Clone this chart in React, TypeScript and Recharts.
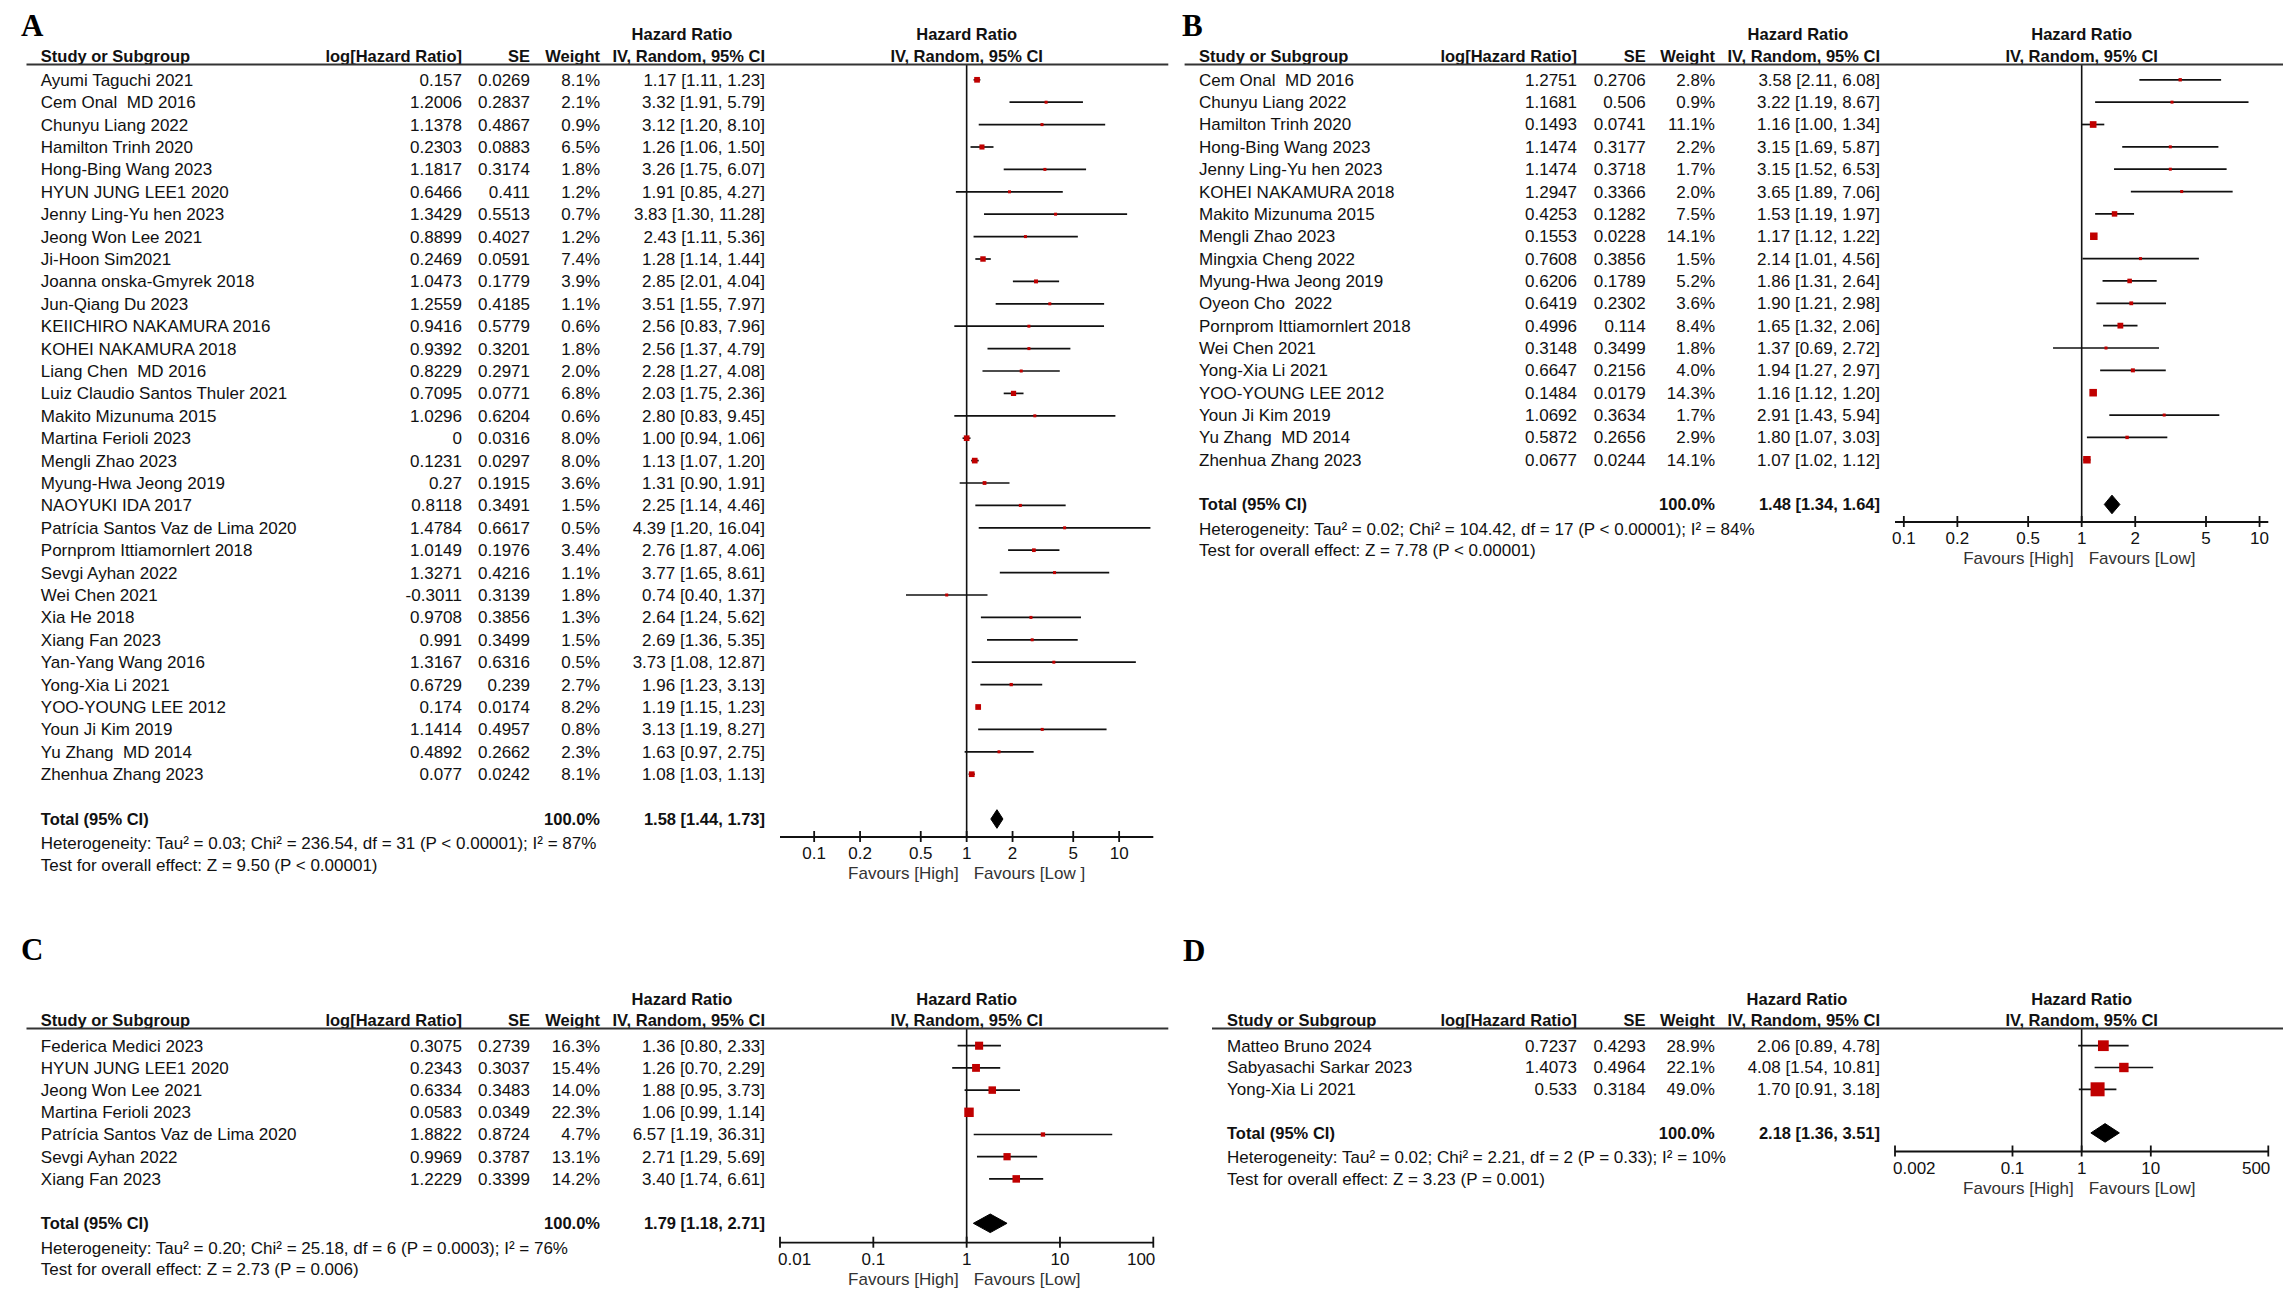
import React from 'react';
import { ScatterChart, Scatter, XAxis, YAxis, ErrorBar, ReferenceLine } from 'recharts';

// ---------------- Panel A data ----------------
const studiesA = [
  'Ayumi Taguchi 2021', 'Cem Onal  MD 2016', 'Chunyu Liang 2022', 'Hamilton Trinh 2020', 'Hong-Bing Wang 2023',
  'HYUN JUNG LEE1 2020', 'Jenny Ling-Yu hen 2023', 'Jeong Won Lee 2021', 'Ji-Hoon Sim2021', 'Joanna onska-Gmyrek 2018',
  'Jun-Qiang Du 2023', 'KEIICHIRO NAKAMURA 2016', 'KOHEI NAKAMURA 2018', 'Liang Chen  MD 2016', 'Luiz Claudio Santos Thuler 2021',
  'Makito Mizunuma 2015', 'Martina Ferioli 2023', 'Mengli Zhao 2023', 'Myung-Hwa Jeong 2019', 'NAOYUKI IDA 2017',
  'Patrícia Santos Vaz de Lima 2020', 'Pornprom Ittiamornlert 2018', 'Sevgi Ayhan 2022', 'Wei Chen 2021', 'Xia He 2018',
  'Xiang Fan 2023', 'Yan-Yang Wang 2016', 'Yong-Xia Li 2021', 'YOO-YOUNG LEE 2012', 'Youn Ji Kim 2019',
  'Yu Zhang  MD 2014', 'Zhenhua Zhang 2023',
];
const logHrA = [0.157, 1.2006, 1.1378, 0.2303, 1.1817, 0.6466, 1.3429, 0.8899, 0.2469, 1.0473, 1.2559, 0.9416, 0.9392, 0.8229, 0.7095, 1.0296, 0, 0.1231, 0.27, 0.8118, 1.4784, 1.0149, 1.3271, -0.3011, 0.9708, 0.991, 1.3167, 0.6729, 0.174, 1.1414, 0.4892, 0.077];
const seA = [0.0269, 0.2837, 0.4867, 0.0883, 0.3174, 0.411, 0.5513, 0.4027, 0.0591, 0.1779, 0.4185, 0.5779, 0.3201, 0.2971, 0.0771, 0.6204, 0.0316, 0.0297, 0.1915, 0.3491, 0.6617, 0.1976, 0.4216, 0.3139, 0.3856, 0.3499, 0.6316, 0.239, 0.0174, 0.4957, 0.2662, 0.0242];
const weightA = [8.1, 2.1, 0.9, 6.5, 1.8, 1.2, 0.7, 1.2, 7.4, 3.9, 1.1, 0.6, 1.8, 2.0, 6.8, 0.6, 8.0, 8.0, 3.6, 1.5, 0.5, 3.4, 1.1, 1.8, 1.3, 1.5, 0.5, 2.7, 8.2, 0.8, 2.3, 8.1];
const hrA = [1.17, 3.32, 3.12, 1.26, 3.26, 1.91, 3.83, 2.43, 1.28, 2.85, 3.51, 2.56, 2.56, 2.28, 2.03, 2.80, 1.00, 1.13, 1.31, 2.25, 4.39, 2.76, 3.77, 0.74, 2.64, 2.69, 3.73, 1.96, 1.19, 3.13, 1.63, 1.08];
const lowA = [1.11, 1.91, 1.20, 1.06, 1.75, 0.85, 1.30, 1.11, 1.14, 2.01, 1.55, 0.83, 1.37, 1.27, 1.75, 0.83, 0.94, 1.07, 0.90, 1.14, 1.20, 1.87, 1.65, 0.40, 1.24, 1.36, 1.08, 1.23, 1.15, 1.19, 0.97, 1.03];
const highA = [1.23, 5.79, 8.10, 1.50, 6.07, 4.27, 11.28, 5.36, 1.44, 4.04, 7.97, 7.96, 4.79, 4.08, 2.36, 9.45, 1.06, 1.20, 1.91, 4.46, 16.04, 4.06, 8.61, 1.37, 5.62, 5.35, 12.87, 3.13, 1.23, 8.27, 2.75, 1.13];
const totalA = [1.58, 1.44, 1.73];
const hetA = 'Heterogeneity: Tau² = 0.03; Chi² = 236.54, df = 31 (P < 0.00001); I² = 87%';
const testA = 'Test for overall effect: Z = 9.50 (P < 0.00001)';
const ticksA = [0.1, 0.2, 0.5, 1, 2, 5, 10];

// ---------------- Panel B data ----------------
const studiesB = [
  'Cem Onal  MD 2016', 'Chunyu Liang 2022', 'Hamilton Trinh 2020', 'Hong-Bing Wang 2023', 'Jenny Ling-Yu hen 2023',
  'KOHEI NAKAMURA 2018', 'Makito Mizunuma 2015', 'Mengli Zhao 2023', 'Mingxia Cheng 2022', 'Myung-Hwa Jeong 2019',
  'Oyeon Cho  2022', 'Pornprom Ittiamornlert 2018', 'Wei Chen 2021', 'Yong-Xia Li 2021', 'YOO-YOUNG LEE 2012',
  'Youn Ji Kim 2019', 'Yu Zhang  MD 2014', 'Zhenhua Zhang 2023',
];
const logHrB = [1.2751, 1.1681, 0.1493, 1.1474, 1.1474, 1.2947, 0.4253, 0.1553, 0.7608, 0.6206, 0.6419, 0.4996, 0.3148, 0.6647, 0.1484, 1.0692, 0.5872, 0.0677];
const seB = [0.2706, 0.506, 0.0741, 0.3177, 0.3718, 0.3366, 0.1282, 0.0228, 0.3856, 0.1789, 0.2302, 0.114, 0.3499, 0.2156, 0.0179, 0.3634, 0.2656, 0.0244];
const weightB = [2.8, 0.9, 11.1, 2.2, 1.7, 2.0, 7.5, 14.1, 1.5, 5.2, 3.6, 8.4, 1.8, 4.0, 14.3, 1.7, 2.9, 14.1];
const hrB = [3.58, 3.22, 1.16, 3.15, 3.15, 3.65, 1.53, 1.17, 2.14, 1.86, 1.90, 1.65, 1.37, 1.94, 1.16, 2.91, 1.80, 1.07];
const lowB = [2.11, 1.19, 1.00, 1.69, 1.52, 1.89, 1.19, 1.12, 1.01, 1.31, 1.21, 1.32, 0.69, 1.27, 1.12, 1.43, 1.07, 1.02];
const highB = [6.08, 8.67, 1.34, 5.87, 6.53, 7.06, 1.97, 1.22, 4.56, 2.64, 2.98, 2.06, 2.72, 2.97, 1.20, 5.94, 3.03, 1.12];
const totalB = [1.48, 1.34, 1.64];
const hetB = 'Heterogeneity: Tau² = 0.02; Chi² = 104.42, df = 17 (P < 0.00001); I² = 84%';
const testB = 'Test for overall effect: Z = 7.78 (P < 0.00001)';
const ticksB = [0.1, 0.2, 0.5, 1, 2, 5, 10];

// ---------------- Panel C data ----------------
const studiesC = [
  'Federica Medici 2023', 'HYUN JUNG LEE1 2020', 'Jeong Won Lee 2021', 'Martina Ferioli 2023',
  'Patrícia Santos Vaz de Lima 2020', 'Sevgi Ayhan 2022', 'Xiang Fan 2023',
];
const logHrC = [0.3075, 0.2343, 0.6334, 0.0583, 1.8822, 0.9969, 1.2229];
const seC = [0.2739, 0.3037, 0.3483, 0.0349, 0.8724, 0.3787, 0.3399];
const weightC = [16.3, 15.4, 14.0, 22.3, 4.7, 13.1, 14.2];
const hrC = [1.36, 1.26, 1.88, 1.06, 6.57, 2.71, 3.40];
const lowC = [0.80, 0.70, 0.95, 0.99, 1.19, 1.29, 1.74];
const highC = [2.33, 2.29, 3.73, 1.14, 36.31, 5.69, 6.61];
const totalC = [1.79, 1.18, 2.71];
const hetC = 'Heterogeneity: Tau² = 0.20; Chi² = 25.18, df = 6 (P = 0.0003); I² = 76%';
const testC = 'Test for overall effect: Z = 2.73 (P = 0.006)';
const ticksC = [0.01, 0.1, 1, 10, 100];

// ---------------- Panel D data ----------------
const studiesD = ['Matteo Bruno 2024', 'Sabyasachi Sarkar 2023', 'Yong-Xia Li 2021'];
const logHrD = [0.7237, 1.4073, 0.533];
const seD = [0.4293, 0.4964, 0.3184];
const weightD = [28.9, 22.1, 49.0];
const hrD = [2.06, 4.08, 1.70];
const lowD = [0.89, 1.54, 0.91];
const highD = [4.78, 10.81, 3.18];
const totalD = [2.18, 1.36, 3.51];
const hetD = 'Heterogeneity: Tau² = 0.02; Chi² = 2.21, df = 2 (P = 0.33); I² = 10%';
const testD = 'Test for overall effect: Z = 3.23 (P = 0.001)';
const ticksD = [0.002, 0.1, 1, 10, 500];

const FONT = '"Liberation Sans", Arial, Helvetica, sans-serif';
const FS = 17;
const FSB = 16.5;
const RED = '#c00000';
const INK = '#111111';

const panels = [
  {
    d: { studies: studiesA, logHr: logHrA, se: seA, weight: weightA, hr: hrA, low: lowA, high: highA, total: totalA, het: hetA, test: testA, ticks: ticksA },
    L: { left: 0, top: 0, w: 1180, h: 900, px0: 780, px1: 1153.3, py0: 64.5, py1: 837, row0: 79.8, pitch: 22.4, domain: [0.0597, 16.75],
      colName: 40.8, colLog: 462, colSe: 530, colW: 600, colCi: 765, hrHead: 682, lineX0: 26.5, lineX1: 1168.3, headY1: 34.4, headY2: 56.5,
      label: 'A', labelX: 21, labelY: 36, lowLabel: 'Favours [Low ]' },
  },
  {
    d: { studies: studiesB, logHr: logHrB, se: seB, weight: weightB, hr: hrB, low: lowB, high: highB, total: totalB, het: hetB, test: testB, ticks: ticksB },
    L: { left: 1180, top: 0, w: 1116, h: 600, px0: 1895, px1: 2268.3, py0: 64.5, py1: 522, row0: 79.8, pitch: 22.35, domain: [0.0892, 11.2],
      colName: 1199, colLog: 1577, colSe: 1645.7, colW: 1715, colCi: 1880, hrHead: 1798, lineX0: 1184.6, lineX1: 2283, headY1: 34.4, headY2: 56.5,
      label: 'B', labelX: 1182, labelY: 36, lowLabel: 'Favours [Low]' },
  },
  {
    d: { studies: studiesC, logHr: logHrC, se: seC, weight: weightC, hr: hrC, low: lowC, high: highC, total: totalC, het: hetC, test: testC, ticks: ticksC },
    L: { left: 0, top: 900, w: 1180, h: 404, px0: 780, px1: 1153.3, py0: 1028.5, py1: 1242.7, row0: 1045.7, pitch: 22.2, domain: [0.01, 100],
      colName: 40.8, colLog: 462, colSe: 530, colW: 600, colCi: 765, hrHead: 682, lineX0: 26.5, lineX1: 1168.3, headY1: 999, headY2: 1020.7,
      label: 'C', labelX: 21, labelY: 960, lowLabel: 'Favours [Low]' },
  },
  {
    d: { studies: studiesD, logHr: logHrD, se: seD, weight: weightD, hr: hrD, low: lowD, high: highD, total: totalD, het: hetD, test: testD, ticks: ticksD },
    L: { left: 1180, top: 900, w: 1116, h: 404, px0: 1895, px1: 2268.3, py0: 1028.5, py1: 1151.5, row0: 1045.7, pitch: 21.8, domain: [0.002, 500],
      colName: 1227, colLog: 1577, colSe: 1645.6, colW: 1714.8, colCi: 1880, hrHead: 1797, lineX0: 1212, lineX1: 2283, headY1: 999, headY2: 1020.7,
      label: 'D', labelX: 1183, labelY: 960.5, lowLabel: 'Favours [Low]' },
  },
];

const ci = (h: number, l: number, u: number) => `${h.toFixed(2)} [${l.toFixed(2)}, ${u.toFixed(2)}]`;

const txtStyle: React.CSSProperties = { whiteSpace: 'pre' };

function Txt({ x, y, anchor = 'end', bold = false, fill = INK, size, children }: any) {
  const fs = size || (bold ? FSB : FS);
  return (
    <text x={x} y={y} dy="0.35em" textAnchor={anchor} fontFamily={FONT} fontSize={fs}
      fontWeight={bold ? 'bold' : 'normal'} fill={fill} style={txtStyle}>{children}</text>
  );
}

function Marker(p: any) {
  const w = p.payload && p.payload.w ? p.payload.w : 1;
  const s = Math.max(3, 2.0 * Math.sqrt(w));
  return <rect x={p.cx - s / 2} y={p.cy - s / 2} width={s} height={s} fill={RED} />;
}

function Empty() {
  return <g />;
}

function DiamondLine(p: any) {
  const pts = (p.points || []).map((q: any) => `${q.x},${q.y}`).join(' ');
  return <polygon points={pts} fill="#000" stroke="#000" strokeWidth={1} />;
}

function ForestPanel({ d, L }: any) {
  const n = d.studies.length;
  const totalIdx = n + 1;
  const domTop = (L.py0 - L.row0) / L.pitch;
  const domBot = (L.py1 - L.row0) / L.pitch;
  const ox = L.left;
  const oy = L.top;
  const axisY = L.py1 - oy;
  const rows = d.studies.map((s: string, i: number) => ({
    row: i, hr: d.hr[i], err: [d.hr[i] - d.low[i], d.high[i] - d.hr[i]], w: d.weight[i],
  }));
  const dh = 9.3 / L.pitch;
  const diamond = [
    { row: totalIdx, hr: d.total[1] },
    { row: totalIdx - dh, hr: d.total[0] },
    { row: totalIdx, hr: d.total[2] },
    { row: totalIdx + dh, hr: d.total[0] },
  ];
  const rowTicks = [...rows.map((r: any) => r.row), totalIdx];
  const domLo = L.domain[0];
  const domHi = L.domain[1];

  const RowTick = (p: any) => {
    const v = p.payload.value;
    const y = p.y;
    if (v === totalIdx) {
      return (
        <g>
          <Txt x={L.colName - ox} y={y} anchor="start" bold>Total (95% CI)</Txt>
          <Txt x={L.colW - ox} y={y} bold>100.0%</Txt>
          <Txt x={L.colCi - ox} y={y} bold>{ci(d.total[0], d.total[1], d.total[2])}</Txt>
          <Txt x={L.colName - ox} y={y + 24.5} anchor="start">{d.het}</Txt>
          <Txt x={L.colName - ox} y={y + 46} anchor="start">{d.test}</Txt>
        </g>
      );
    }
    const i = v;
    if (i < 0 || i >= n) return <g />;
    return (
      <g>
        <Txt x={L.colName - ox} y={y} anchor="start">{d.studies[i]}</Txt>
        <Txt x={L.colLog - ox} y={y}>{String(d.logHr[i])}</Txt>
        <Txt x={L.colSe - ox} y={y}>{String(d.se[i])}</Txt>
        <Txt x={L.colW - ox} y={y}>{d.weight[i].toFixed(1) + '%'}</Txt>
        <Txt x={L.colCi - ox} y={y}>{ci(d.hr[i], d.low[i], d.high[i])}</Txt>
      </g>
    );
  };

  const XTick = (p: any) => {
    const x = p.x;
    const v = p.payload.value;
    const anchor = v <= domLo * 1.0001 ? 'start' : v >= domHi * 0.9999 ? 'end' : 'middle';
    const lx = anchor === 'start' ? x - 2 : anchor === 'end' ? x + 2 : x;
    return (
      <g>
        <line x1={x} x2={x} y1={axisY - 6} y2={axisY + 5} stroke={INK} strokeWidth={1.8} />
        <Txt x={lx} y={axisY + 16.5} anchor={anchor}>{String(v)}</Txt>
        {v === 1 ? (
          <g>
            <Txt x={x - 8} y={axisY + 36.5} anchor="end" fill="#333">Favours [High]</Txt>
            <Txt x={x + 7} y={axisY + 36.5} anchor="start" fill="#333">{L.lowLabel}</Txt>
          </g>
        ) : null}
      </g>
    );
  };

  return (
    <div style={{ position: 'absolute', left: L.left, top: L.top, width: L.w, height: L.h }}>
      <ScatterChart width={L.w} height={L.h}
        margin={{ top: L.py0 - L.top, right: L.left + L.w - L.px1, bottom: 0, left: 0 }}>
        <XAxis type="number" dataKey="hr" scale="log" domain={L.domain} allowDataOverflow ticks={d.ticks}
          interval={0} tick={XTick} tickLine={false} tickSize={0} tickMargin={0}
          axisLine={{ stroke: INK, strokeWidth: 1.8 }} height={L.top + L.h - L.py1} />
        <YAxis type="number" dataKey="row" domain={[domTop, domBot]} reversed allowDataOverflow ticks={rowTicks}
          interval={0} tick={RowTick} tickLine={false} axisLine={false} width={L.px0 - L.left} />
        <ReferenceLine x={1} stroke={INK} strokeWidth={1.6} />
        <Scatter data={rows} isAnimationActive={false} shape={Marker} fill={RED}>
          <ErrorBar dataKey="err" direction="x" width={0} stroke={INK} strokeWidth={1.7} />
        </Scatter>
        <Scatter data={diamond} isAnimationActive={false} shape={Empty} fill="#000" line={DiamondLine} />
      </ScatterChart>
    </div>
  );
}

function Overlay() {
  return (
    <svg width={2296} height={1304} style={{ position: 'absolute', left: 0, top: 0, pointerEvents: 'none' }}>
      {panels.map(({ L }, k) => {
        const mid = (L.px0 + L.px1) / 2;
        return (
          <g key={k}>
            <text x={L.labelX} y={L.labelY} fontFamily='"Liberation Serif", "Times New Roman", serif' fontWeight="bold"
              fontSize={31} fill="#000">{L.label}</text>
            <Txt x={L.hrHead} y={L.headY1} anchor="middle" bold>Hazard Ratio</Txt>
            <Txt x={L.colName} y={L.headY2} anchor="start" bold>Study or Subgroup</Txt>
            <Txt x={L.colLog} y={L.headY2} bold>log[Hazard Ratio]</Txt>
            <Txt x={L.colSe} y={L.headY2} bold>SE</Txt>
            <Txt x={L.colW} y={L.headY2} bold>Weight</Txt>
            <Txt x={L.colCi} y={L.headY2} bold>IV, Random, 95% CI</Txt>
            <Txt x={mid} y={L.headY1} anchor="middle" bold>Hazard Ratio</Txt>
            <Txt x={mid} y={L.headY2} anchor="middle" bold>IV, Random, 95% CI</Txt>
            <line x1={L.lineX0} x2={L.lineX1} y1={L.py0} y2={L.py0} stroke="#333" strokeWidth={2} />
          </g>
        );
      })}
    </svg>
  );
}

export default function App() {
  return (
    <div style={{ position: 'fixed', left: 0, top: 0, width: 2296, height: 1304, background: '#fff', overflow: 'hidden' }}>
      {panels.map((p, k) => (
        <ForestPanel key={k} d={p.d} L={p.L} />
      ))}
      <Overlay />
    </div>
  );
}
